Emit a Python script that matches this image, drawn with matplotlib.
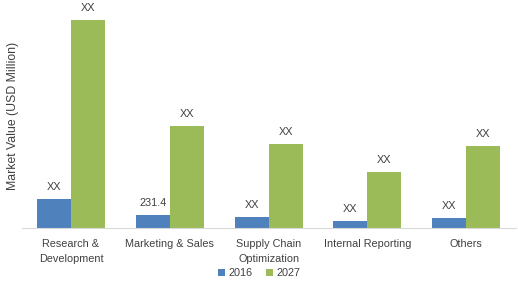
import matplotlib.pyplot as plt
import numpy as np

categories = ['Research &\nDevelopment', 'Marketing & Sales', 'Supply Chain\nOptimization',
              'Internal Reporting', 'Others']
values_2016 = [516, 231.4, 196, 125, 178]
values_2027 = [3700, 1816, 1495, 997, 1460]
labels_2016 = ['XX', '231.4', 'XX', 'XX', 'XX']
labels_2027 = ['XX', 'XX', 'XX', 'XX', 'XX']

plt.rcParams['font.family'] = ['Liberation Sans', 'DejaVu Sans']
text_color = '#404040'

fig = plt.figure(figsize=(5.18, 2.85), dpi=100)
ax = fig.add_axes([21.6 / 518, 1 - 228 / 285, 494 / 518, 225 / 285])

x = np.arange(len(categories))
w = 0.345
b1 = ax.bar(x - w / 2, values_2016, w, color='#4f81bd', label='2016')
b2 = ax.bar(x + w / 2, values_2027, w, color='#9bbb59', label='2027')

for bars, labs in [(b1, labels_2016), (b2, labels_2027)]:
    for bar, lab in zip(bars, labs):
        ax.annotate(lab, (bar.get_x() + bar.get_width() / 2, bar.get_height()),
                    xytext=(0, 5), textcoords='offset points', ha='center', va='bottom',
                    fontsize=7.8, color=text_color)

ax.set_xlim(-0.5, len(categories) - 0.5)
ax.set_ylim(0, 4000)
ax.set_xticks(x)
ax.set_xticklabels(categories, fontsize=7.8, color=text_color, linespacing=1.6)
ax.tick_params(axis='x', length=0, pad=8)
ax.set_yticks([])
for s in ['top', 'right', 'left']:
    ax.spines[s].set_visible(False)
ax.spines['bottom'].set_color('#d9d9d9')
ax.set_ylabel('Market Value (USD Million)', fontsize=8.8, color=text_color, labelpad=2)

fig.legend(loc='lower center', bbox_to_anchor=(0.5, -0.01), ncol=2, frameon=False,
           fontsize=7.8, handlelength=0.7, handleheight=0.7, handletextpad=0.3,
           columnspacing=1.2, labelcolor=text_color)

fig.savefig('out.png', dpi=100)
